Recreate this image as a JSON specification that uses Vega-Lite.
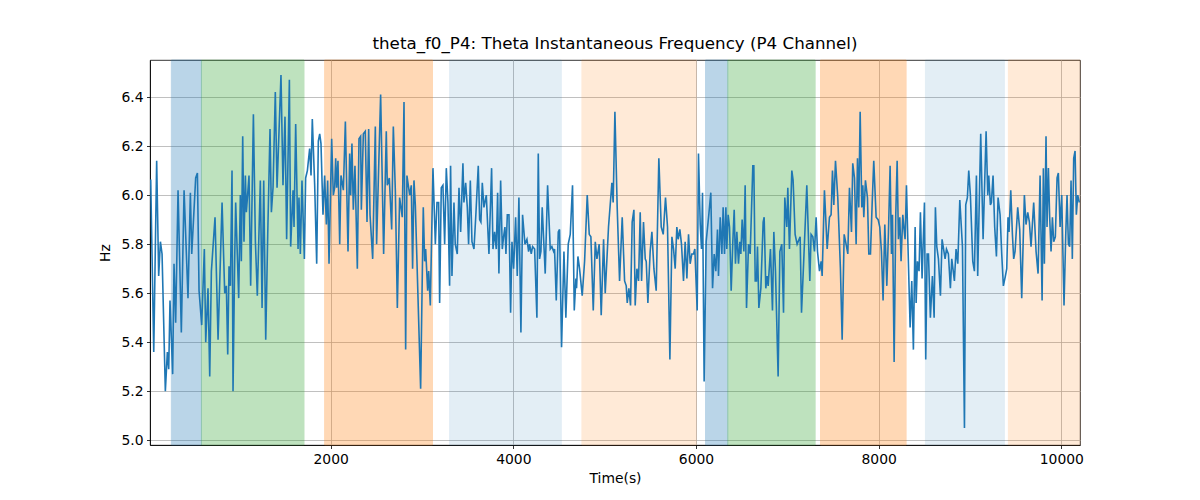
{
  "$schema": "https://vega.github.io/schema/vega-lite/v6.json",
  "autosize": {"type": "none"},
  "width": 930,
  "height": 385,
  "padding": {"left": 150, "top": 60, "right": 120, "bottom": 55},
  "background": "white",
  "title": {"text": "theta_f0_P4: Theta Instantaneous Frequency (P4 Channel)", "font": "DejaVu Sans", "fontSize": 16.7, "fontWeight": "normal", "color": "black", "offset": 7},
  "config": {
    "view": {"stroke": "black", "strokeWidth": 0.8},
    "axis": {"labelFont": "DejaVu Sans", "labelFontSize": 13.9, "labelColor": "black", "titleFont": "DejaVu Sans", "titleFontSize": 13.9, "titleFontWeight": "normal", "titleColor": "black", "gridColor": "#b0b0b0", "gridWidth": 0.8, "gridOpacity": 1, "tickColor": "black", "tickSize": 3.5, "tickWidth": 0.8, "labelPadding": 3.5, "domainColor": "black", "domainWidth": 0.8}
  },
  "datasets": {
    "bands": [
      {"start": 256, "end": 585, "kind": "A"},
      {"start": 585, "end": 1708, "kind": "B"},
      {"start": 1934, "end": 3115, "kind": "C"},
      {"start": 3302, "end": 4525, "kind": "D"},
      {"start": 4751, "end": 6002, "kind": "E"},
      {"start": 6104, "end": 6348, "kind": "A"},
      {"start": 6348, "end": 7304, "kind": "B"},
      {"start": 7363, "end": 8300, "kind": "C"},
      {"start": 8512, "end": 9376, "kind": "D"},
      {"start": 9420, "end": 10204, "kind": "E"}
    ],
    "series": [
      {"t":22,"v":6.06},{"t":30,"v":6.06},{"t":63,"v":5.36},{"t":95,"v":6.14},{"t":117,"v":5.67},{"t":136,"v":5.81},{"t":154,"v":5.76},{"t":190,"v":5.20},{"t":212,"v":5.36},{"t":227,"v":5.29},{"t":241,"v":5.57},{"t":270,"v":5.27},{"t":285,"v":5.72},{"t":303,"v":5.48},{"t":329,"v":6.02},{"t":365,"v":5.44},{"t":395,"v":6.02},{"t":438,"v":5.58},{"t":464,"v":6.01},{"t":479,"v":5.76},{"t":497,"v":5.89},{"t":522,"v":6.07},{"t":541,"v":6.09},{"t":559,"v":5.61},{"t":588,"v":5.47},{"t":617,"v":5.78},{"t":632,"v":5.40},{"t":657,"v":5.62},{"t":676,"v":5.26},{"t":694,"v":5.69},{"t":734,"v":5.91},{"t":767,"v":5.41},{"t":811,"v":5.97},{"t":840,"v":5.60},{"t":858,"v":5.63},{"t":873,"v":5.35},{"t":887,"v":5.71},{"t":902,"v":5.63},{"t":920,"v":6.10},{"t":931,"v":5.20},{"t":949,"v":5.73},{"t":960,"v":5.97},{"t":993,"v":5.58},{"t":1011,"v":6.00},{"t":1022,"v":5.73},{"t":1037,"v":6.24},{"t":1051,"v":5.81},
      {"t":1066,"v":6.08},{"t":1077,"v":5.93},{"t":1106,"v":6.08},{"t":1124,"v":5.63},{"t":1154,"v":6.33},{"t":1176,"v":5.81},{"t":1197,"v":5.59},{"t":1230,"v":6.06},{"t":1249,"v":5.54},{"t":1267,"v":6.06},{"t":1289,"v":5.41},{"t":1311,"v":5.84},{"t":1336,"v":6.27},{"t":1351,"v":5.93},{"t":1369,"v":6.03},{"t":1394,"v":6.42},{"t":1413,"v":6.03},{"t":1456,"v":6.49},{"t":1478,"v":6.04},{"t":1500,"v":6.32},{"t":1518,"v":5.82},{"t":1548,"v":6.47},{"t":1562,"v":5.79},{"t":1588,"v":6.02},{"t":1599,"v":5.87},{"t":1617,"v":6.29},{"t":1643,"v":5.78},{"t":1653,"v":5.99},{"t":1668,"v":5.76},{"t":1686,"v":6.06},{"t":1712,"v":5.74},{"t":1726,"v":6.07},{"t":1745,"v":6.10},{"t":1770,"v":6.19},{"t":1785,"v":6.08},{"t":1799,"v":6.31},{"t":1825,"v":6.04},{"t":1847,"v":5.72},{"t":1865,"v":6.22},{"t":1880,"v":6.25},{"t":1894,"v":6.21},{"t":1916,"v":5.92},{"t":1934,"v":6.08},{"t":1953,"v":5.88},{"t":1967,"v":6.06},{"t":1982,"v":5.72},{"t":2011,"v":6.23},{"t":2029,"v":6.00},
      {"t":2044,"v":6.03},{"t":2055,"v":6.15},{"t":2066,"v":6.03},{"t":2080,"v":6.14},{"t":2099,"v":5.80},{"t":2113,"v":6.08},{"t":2139,"v":6.02},{"t":2161,"v":6.30},{"t":2190,"v":5.77},{"t":2208,"v":6.17},{"t":2219,"v":6.00},{"t":2233,"v":6.21},{"t":2248,"v":5.94},{"t":2266,"v":6.12},{"t":2292,"v":5.70},{"t":2310,"v":6.23},{"t":2328,"v":6.24},{"t":2336,"v":5.94},{"t":2358,"v":6.25},{"t":2379,"v":6.26},{"t":2398,"v":5.89},{"t":2416,"v":6.27},{"t":2431,"v":5.92},{"t":2460,"v":5.74},{"t":2489,"v":6.28},{"t":2503,"v":5.80},{"t":2547,"v":6.41},{"t":2580,"v":5.76},{"t":2609,"v":6.26},{"t":2620,"v":6.04},{"t":2642,"v":6.07},{"t":2668,"v":5.86},{"t":2686,"v":6.28},{"t":2708,"v":6.02},{"t":2730,"v":5.54},{"t":2755,"v":5.99},{"t":2784,"v":5.91},{"t":2803,"v":6.38},{"t":2821,"v":5.37},{"t":2835,"v":6.08},{"t":2865,"v":6.00},{"t":2883,"v":6.04},{"t":2897,"v":5.70},{"t":2912,"v":6.06},{"t":2927,"v":5.96},{"t":2985,"v":5.21},{"t":3014,"v":5.95},{"t":3029,"v":5.73},{"t":3040,"v":5.78},{"t":3062,"v":5.61},{"t":3073,"v":5.69},{"t":3091,"v":5.55},
      {"t":3120,"v":6.11},{"t":3146,"v":5.80},{"t":3164,"v":5.97},{"t":3182,"v":5.97},{"t":3193,"v":5.56},{"t":3211,"v":6.03},{"t":3229,"v":6.04},{"t":3248,"v":5.80},{"t":3266,"v":6.11},{"t":3284,"v":5.97},{"t":3302,"v":5.63},{"t":3313,"v":6.12},{"t":3328,"v":5.67},{"t":3350,"v":5.97},{"t":3364,"v":5.80},{"t":3386,"v":5.76},{"t":3405,"v":6.03},{"t":3423,"v":5.85},{"t":3448,"v":6.13},{"t":3459,"v":5.97},{"t":3478,"v":6.05},{"t":3496,"v":5.95},{"t":3510,"v":5.80},{"t":3529,"v":6.06},{"t":3547,"v":5.81},{"t":3569,"v":5.78},{"t":3591,"v":5.93},{"t":3616,"v":6.12},{"t":3631,"v":5.90},{"t":3645,"v":5.89},{"t":3660,"v":6.05},{"t":3678,"v":5.95},{"t":3704,"v":6.00},{"t":3733,"v":5.76},{"t":3762,"v":6.11},{"t":3777,"v":5.78},{"t":3795,"v":5.85},{"t":3813,"v":5.78},{"t":3828,"v":6.01},{"t":3842,"v":5.68},{"t":3861,"v":6.06},{"t":3879,"v":5.78},{"t":3893,"v":5.83},{"t":3908,"v":5.87},{"t":3919,"v":5.76},{"t":3934,"v":5.92},{"t":3952,"v":5.92},{"t":3970,"v":5.52},{"t":3985,"v":5.81},{"t":4003,"v":5.70},{"t":4025,"v":5.91},{"t":4043,"v":5.67},{"t":4061,"v":5.99},{"t":4083,"v":5.44},{"t":4101,"v":5.92},{"t":4127,"v":5.80},{"t":4149,"v":5.82},
      {"t":4167,"v":5.77},{"t":4178,"v":5.80},{"t":4196,"v":5.76},{"t":4211,"v":5.79},{"t":4233,"v":5.78},{"t":4258,"v":5.50},{"t":4273,"v":6.17},{"t":4287,"v":5.74},{"t":4302,"v":5.77},{"t":4316,"v":5.95},{"t":4349,"v":5.68},{"t":4375,"v":6.04},{"t":4404,"v":5.78},{"t":4422,"v":5.79},{"t":4441,"v":5.77},{"t":4451,"v":5.78},{"t":4470,"v":5.57},{"t":4492,"v":5.85},{"t":4506,"v":5.86},{"t":4528,"v":5.38},{"t":4554,"v":5.77},{"t":4575,"v":5.50},{"t":4601,"v":5.80},{"t":4623,"v":5.84},{"t":4648,"v":6.04},{"t":4667,"v":5.53},{"t":4685,"v":5.66},{"t":4692,"v":5.62},{"t":4707,"v":5.75},{"t":4725,"v":5.70},{"t":4754,"v":5.59},{"t":4780,"v":5.73},{"t":4809,"v":6.00},{"t":4831,"v":5.84},{"t":4849,"v":5.83},{"t":4875,"v":5.53},{"t":4897,"v":5.81},{"t":4915,"v":5.74},{"t":4940,"v":5.80},{"t":4962,"v":5.51},{"t":4988,"v":5.82},{"t":5006,"v":5.60},{"t":5042,"v":5.87},{"t":5079,"v":6.05},{"t":5093,"v":5.97},{"t":5112,"v":6.34},{"t":5137,"v":5.95},{"t":5163,"v":5.65},
      {"t":5192,"v":5.91},{"t":5218,"v":5.65},{"t":5236,"v":5.63},{"t":5247,"v":5.56},{"t":5265,"v":5.62},{"t":5283,"v":5.55},{"t":5301,"v":5.89},{"t":5320,"v":5.94},{"t":5334,"v":5.55},{"t":5353,"v":5.70},{"t":5371,"v":5.65},{"t":5389,"v":5.93},{"t":5404,"v":5.65},{"t":5425,"v":5.89},{"t":5444,"v":5.74},{"t":5455,"v":5.73},{"t":5473,"v":5.56},{"t":5498,"v":5.77},{"t":5517,"v":5.85},{"t":5539,"v":5.70},{"t":5564,"v":5.61},{"t":5593,"v":6.15},{"t":5619,"v":5.87},{"t":5641,"v":5.84},{"t":5666,"v":5.99},{"t":5688,"v":5.87},{"t":5714,"v":5.33},{"t":5736,"v":5.83},{"t":5754,"v":5.78},{"t":5772,"v":5.70},{"t":5790,"v":5.87},{"t":5805,"v":5.82},{"t":5823,"v":5.86},{"t":5841,"v":5.80},{"t":5863,"v":5.65},{"t":5881,"v":5.81},{"t":5900,"v":5.66},{"t":5918,"v":5.84},{"t":5936,"v":5.72},{"t":5954,"v":5.76},{"t":5973,"v":5.76},{"t":5987,"v":5.78},{"t":6013,"v":5.53},{"t":6027,"v":6.17},{"t":6046,"v":5.88},{"t":6060,"v":5.78},{"t":6071,"v":6.01},{"t":6089,"v":5.24},{"t":6111,"v":5.81},{"t":6140,"v":5.92},{"t":6162,"v":6.01},{"t":6181,"v":5.62},{"t":6199,"v":5.76},{"t":6217,"v":5.69},{"t":6235,"v":5.86},
      {"t":6246,"v":5.67},{"t":6265,"v":5.91},{"t":6283,"v":5.76},{"t":6297,"v":5.95},{"t":6312,"v":5.76},{"t":6327,"v":5.95},{"t":6337,"v":5.78},{"t":6352,"v":5.92},{"t":6367,"v":5.87},{"t":6385,"v":5.61},{"t":6403,"v":5.81},{"t":6418,"v":5.94},{"t":6432,"v":5.72},{"t":6447,"v":5.85},{"t":6465,"v":5.72},{"t":6480,"v":5.81},{"t":6491,"v":5.76},{"t":6505,"v":5.90},{"t":6524,"v":5.77},{"t":6538,"v":6.04},{"t":6553,"v":5.54},{"t":6575,"v":5.80},{"t":6593,"v":5.76},{"t":6622,"v":6.12},{"t":6633,"v":6.12},{"t":6648,"v":5.65},{"t":6662,"v":5.65},{"t":6673,"v":5.79},{"t":6688,"v":5.54},{"t":6710,"v":5.62},{"t":6735,"v":5.89},{"t":6746,"v":5.91},{"t":6764,"v":5.62},{"t":6779,"v":5.67},{"t":6790,"v":5.63},{"t":6815,"v":5.78},{"t":6837,"v":5.53},{"t":6852,"v":5.85},{"t":6870,"v":5.69},{"t":6899,"v":5.26},{"t":6918,"v":5.77},{"t":6939,"v":5.80},{"t":6958,"v":5.52},{"t":6972,"v":5.99},{"t":6994,"v":5.87},{"t":7005,"v":6.03},{"t":7023,"v":5.78},{"t":7049,"v":6.10},{"t":7063,"v":6.06},{"t":7085,"v":5.84},{"t":7107,"v":5.80},{"t":7140,"v":5.83},{"t":7155,"v":5.52},{"t":7180,"v":5.74},{"t":7213,"v":6.04},{"t":7246,"v":5.65},
      {"t":7260,"v":5.84},{"t":7279,"v":5.83},{"t":7297,"v":5.77},{"t":7315,"v":5.91},{"t":7330,"v":5.77},{"t":7352,"v":5.69},{"t":7370,"v":5.73},{"t":7381,"v":5.67},{"t":7406,"v":6.02},{"t":7436,"v":5.78},{"t":7461,"v":5.91},{"t":7479,"v":5.92},{"t":7494,"v":6.10},{"t":7509,"v":5.96},{"t":7527,"v":6.14},{"t":7552,"v":5.99},{"t":7581,"v":5.70},{"t":7600,"v":5.41},{"t":7622,"v":5.84},{"t":7643,"v":5.80},{"t":7662,"v":5.76},{"t":7680,"v":6.03},{"t":7702,"v":5.85},{"t":7716,"v":6.13},{"t":7735,"v":6.07},{"t":7753,"v":5.80},{"t":7768,"v":6.15},{"t":7782,"v":5.95},{"t":7797,"v":6.34},{"t":7815,"v":5.95},{"t":7826,"v":6.04},{"t":7837,"v":5.91},{"t":7855,"v":6.06},{"t":7877,"v":5.99},{"t":7892,"v":5.76},{"t":7910,"v":5.76},{"t":7928,"v":5.96},{"t":7946,"v":6.14},{"t":7972,"v":5.91},{"t":7994,"v":5.90},{"t":8012,"v":5.87},{"t":8030,"v":5.77},{"t":8048,"v":5.57},{"t":8067,"v":5.88},{"t":8089,"v":5.63},{"t":8107,"v":5.85},{"t":8125,"v":6.12},{"t":8140,"v":5.76},{"t":8151,"v":5.92},{"t":8169,"v":5.32},{"t":8187,"v":5.92},{"t":8202,"v":6.14},{"t":8216,"v":5.82},{"t":8231,"v":5.91},{"t":8245,"v":5.73},{"t":8264,"v":5.92},{"t":8275,"v":5.87},{"t":8289,"v":5.82},
      {"t":8304,"v":6.04},{"t":8318,"v":5.83},{"t":8344,"v":5.46},{"t":8362,"v":5.65},{"t":8380,"v":5.37},{"t":8399,"v":5.87},{"t":8410,"v":5.56},{"t":8424,"v":5.73},{"t":8442,"v":5.69},{"t":8457,"v":5.93},{"t":8475,"v":5.66},{"t":8501,"v":5.97},{"t":8515,"v":5.33},{"t":8530,"v":5.76},{"t":8545,"v":5.76},{"t":8566,"v":5.50},{"t":8588,"v":5.67},{"t":8607,"v":5.50},{"t":8621,"v":5.95},{"t":8636,"v":5.79},{"t":8654,"v":5.74},{"t":8676,"v":5.59},{"t":8694,"v":5.82},{"t":8727,"v":5.74},{"t":8742,"v":5.78},{"t":8763,"v":5.76},{"t":8785,"v":5.62},{"t":8800,"v":5.74},{"t":8829,"v":5.65},{"t":8847,"v":5.78},{"t":8866,"v":5.72},{"t":8888,"v":5.98},{"t":8917,"v":5.79},{"t":8939,"v":5.05},{"t":8953,"v":5.96},{"t":8971,"v":5.99},{"t":8986,"v":6.10},{"t":9004,"v":6.00},{"t":9030,"v":5.73},{"t":9048,"v":5.69},{"t":9070,"v":6.08},{"t":9084,"v":5.67},{"t":9117,"v":6.25},{"t":9143,"v":5.82},{"t":9176,"v":6.26},
      {"t":9194,"v":6.00},{"t":9205,"v":6.08},{"t":9223,"v":5.96},{"t":9234,"v":5.97},{"t":9252,"v":6.08},{"t":9270,"v":5.87},{"t":9289,"v":5.75},{"t":9307,"v":5.99},{"t":9329,"v":5.92},{"t":9347,"v":5.76},{"t":9365,"v":5.63},{"t":9387,"v":5.67},{"t":9402,"v":5.70},{"t":9416,"v":5.91},{"t":9427,"v":5.85},{"t":9446,"v":6.02},{"t":9464,"v":5.84},{"t":9478,"v":5.74},{"t":9493,"v":5.77},{"t":9522,"v":5.95},{"t":9544,"v":5.86},{"t":9566,"v":5.58},{"t":9595,"v":6.00},{"t":9613,"v":5.88},{"t":9632,"v":5.93},{"t":9650,"v":5.89},{"t":9668,"v":5.79},{"t":9697,"v":5.97},{"t":9723,"v":5.77},{"t":9745,"v":5.68},{"t":9767,"v":6.08},{"t":9789,"v":5.57},{"t":9803,"v":6.11},{"t":9814,"v":5.72},{"t":9832,"v":6.24},{"t":9843,"v":5.87},{"t":9858,"v":6.11},{"t":9872,"v":5.91},{"t":9887,"v":5.77},{"t":9902,"v":5.91},{"t":9916,"v":5.81},{"t":9934,"v":5.83},{"t":9953,"v":6.07},{"t":9967,"v":6.09},{"t":9986,"v":5.87},{"t":10004,"v":6.00},{"t":10029,"v":5.55},{"t":10048,"v":5.84},{"t":10062,"v":6.00},{"t":10077,"v":5.80},{"t":10091,"v":5.79},{"t":10106,"v":6.06},{"t":10120,"v":5.74},{"t":10135,"v":6.15},{"t":10150,"v":6.18},{"t":10164,"v":5.92},{"t":10179,"v":6.00},{"t":10197,"v":5.97}
    ]
  },
  "layer": [
    {
      "data": {"name": "bands"},
      "mark": {"type": "rect", "strokeWidth": 1},
      "encoding": {
        "x": {"field": "start", "type": "quantitative", "scale": {"domain": [22, 10204], "nice": false, "zero": false}, "axis": {"title": "Time(s)", "values": [2000, 4000, 6000, 8000, 10000], "format": "d", "titlePadding": 6}},
        "x2": {"field": "end"},
        "fill": {"field": "kind", "type": "nominal", "scale": {"domain": ["A", "B", "C", "D", "E"], "range": ["#1f77b4", "#2ca02c", "#ff7f0e", "#1f77b4", "#ff7f0e"]}, "legend": null},
        "stroke": {"field": "kind", "type": "nominal", "scale": {"domain": ["A", "B", "C", "D", "E"], "range": ["#1f77b4", "#2ca02c", "#ff7f0e", "#1f77b4", "#ff7f0e"]}, "legend": null},
        "opacity": {"condition": [{"test": "datum.kind === 'D'", "value": 0.12}, {"test": "datum.kind === 'E'", "value": 0.16}], "value": 0.3}
      }
    },
    {
      "data": {"name": "series"},
      "mark": {"type": "line", "color": "#1f77b4", "strokeWidth": 1.6, "clip": true},
      "encoding": {
        "x": {"field": "t", "type": "quantitative"},
        "y": {"field": "v", "type": "quantitative", "scale": {"domain": [4.981, 6.551], "nice": false, "zero": false}, "axis": {"title": "Hz", "values": [5.0, 5.2, 5.4, 5.6, 5.8, 6.0, 6.2, 6.4], "format": ".1f", "titlePadding": 8}}
      }
    }
  ]
}
